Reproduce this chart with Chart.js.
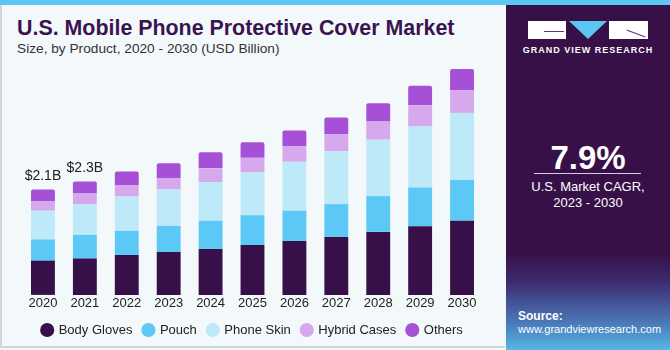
<!DOCTYPE html>
<html>
<head>
<meta charset="utf-8">
<script src="https://cdn.jsdelivr.net/npm/chart.js@4.4.1/dist/chart.umd.min.js"></script>
<style>
  html, body { margin: 0; padding: 0; }
  body { width: 670px; height: 350px; position: relative; overflow: hidden; background: #f3f8fb; font-family: "Liberation Sans", Arial, sans-serif; }
  #topbar { position: absolute; left: 0; top: 0; width: 670px; height: 5px; background: #5cc7f2; }
  #frame { position: absolute; left: 0; top: 5px; width: 505px; height: 343px; border-left: 2px solid #d2d6d9; border-bottom: 2px solid #d2d6d9; box-sizing: border-box; }
  #title { position: absolute; left: 17px; top: 16px; font-size: 21.4px; font-weight: bold; color: #3a1450; }
  #subtitle { position: absolute; left: 17px; top: 41px; font-size: 13.7px; color: #333; }
  #chartBox { position: absolute; left: 0; top: 60px; width: 506px; height: 288px; }
  #panel { position: absolute; left: 506px; top: 5px; width: 164px; height: 345px;
    background: linear-gradient(to bottom, #371047 0%, #371047 72%, #3d2a6e 80%, #4a78b8 92%, #55b8e6 100%); color: #fff; }
  .blk { position: absolute; background: #fff; top: 16px; height: 18px; }
  .ln { position: absolute; background: #5a3a78; height: 1px; }
  #tri { position: absolute; left: 63px; top: 16px; width: 0; height: 0; border-left: 19px solid transparent; border-right: 19px solid transparent; border-top: 18px solid #5cc7f2; }
  #brand { position: absolute; left: 0; width: 164px; top: 40px; text-align: center; font-size: 9px; font-weight: bold; letter-spacing: 1px; }
  #cagr { position: absolute; left: 0; width: 164px; top: 134px; text-align: center; font-size: 33px; font-weight: bold; }
  #rule { position: absolute; left: 28px; width: 107px; top: 168px; height: 1px; background: #d8cce0; }
  #cagrTxt { position: absolute; left: 0; width: 164px; top: 174px; text-align: center; font-size: 13px; line-height: 16px; }
  #src { position: absolute; left: 12px; top: 305px; font-size: 11px; line-height: 13px; }
</style>
</head>
<body>
<div id="topbar"></div>
<div id="frame"></div>
<div id="title">U.S. Mobile Phone Protective Cover Market</div>
<div id="subtitle">Size, by Product, 2020 - 2030 (USD Billion)</div>
<div id="chartBox"><canvas id="chart"></canvas></div>
<div id="panel">
  <div class="blk" style="left:22px;width:38px;"></div>
  <div class="ln" style="left:38px;top:26px;width:20px;"></div>
  <div id="tri"></div>
  <div class="blk" style="left:103px;width:39px;"></div>
  <div class="ln" style="left:120px;top:28px;width:20px;transform:rotate(20deg);"></div>
  <div id="brand">GRAND VIEW RESEARCH</div>
  <div id="cagr">7.9%</div>
  <div id="rule"></div>
  <div id="cagrTxt">U.S. Market CAGR,<br>2023 - 2030</div>
  <div id="src"><b style="font-size:12px">Source:</b><br>www.grandviewresearch.com</div>
</div>
<script>
const years = ["2020", "2021", "2022", "2023", "2024", "2025", "2026", "2027", "2028", "2029", "2030"];
const bodyGloves = [0.68, 0.72, 0.79, 0.85, 0.91, 0.99, 1.07, 1.15, 1.25, 1.36, 1.47];
const pouch = [0.42, 0.47, 0.48, 0.52, 0.56, 0.59, 0.60, 0.65, 0.71, 0.77, 0.81];
const phoneSkin = [0.57, 0.61, 0.68, 0.72, 0.77, 0.85, 0.97, 1.05, 1.12, 1.21, 1.33];
const hybridCases = [0.19, 0.21, 0.23, 0.23, 0.27, 0.29, 0.31, 0.34, 0.36, 0.42, 0.45];
const others = [0.23, 0.24, 0.27, 0.29, 0.32, 0.31, 0.31, 0.33, 0.36, 0.39, 0.42];
const totalLabels = ["$2.1B", "$2.3B"];

const fontFamily = '"Liberation Sans", Arial, sans-serif';

// writes the $ totals above the first two bars
const totalsPlugin = {
    id: 'totals',
    afterDatasetsDraw(chart) {
        const ctx = chart.ctx;
        const lastMeta = chart.getDatasetMeta(chart.data.datasets.length - 1);
        ctx.save();
        ctx.font = '14px ' + fontFamily;
        ctx.fillStyle = '#222';
        ctx.textAlign = 'center';
        ctx.textBaseline = 'bottom';
        totalLabels.forEach((txt, i) => {
            const bar = lastMeta.data[i];
            ctx.fillText(txt, bar.x, bar.y - 6);
        });
        ctx.restore();
    }
};

function makeSet(label, data, color, radius) {
    return {
        label: label,
        data: data,
        backgroundColor: color,
        borderRadius: radius || 0,
        borderSkipped: radius ? 'bottom' : 'start',
        barPercentage: 0.57,
        categoryPercentage: 1.0
    };
}

new Chart(document.getElementById("chart"), {
    type: 'bar',
    data: {
        labels: years,
        datasets: [
            makeSet('Body Gloves', bodyGloves, '#37104a'),
            makeSet('Pouch', pouch, '#5bc8f5'),
            makeSet('Phone Skin', phoneSkin, '#bde9f8'),
            makeSet('Hybrid Cases', hybridCases, '#d5a9ec'),
            makeSet('Others', others, '#a64fd7', 2)
        ]
    },
    options: {
        responsive: true,
        maintainAspectRatio: false,
        animation: false,
        layout: { padding: { left: 22, right: 23, top: 3, bottom: 1.5 } },
        plugins: {
            legend: {
                position: 'bottom',
                labels: {
                    usePointStyle: true,
                    pointStyle: 'circle',
                    boxWidth: 10,
                    boxHeight: 10,
                    padding: 11,
                    color: '#222',
                    font: { size: 13, family: fontFamily }
                }
            },
            tooltip: { enabled: false }
        },
        scales: {
            x: {
                stacked: true,
                grid: { display: false, drawTicks: false },
                border: { display: false },
                ticks: { color: '#222', font: { size: 13, family: fontFamily }, padding: 1 }
            },
            y: {
                stacked: true,
                display: false,
                min: 0,
                max: 4.6
            }
        }
    },
    plugins: [totalsPlugin]
});
</script>
</body>
</html>
